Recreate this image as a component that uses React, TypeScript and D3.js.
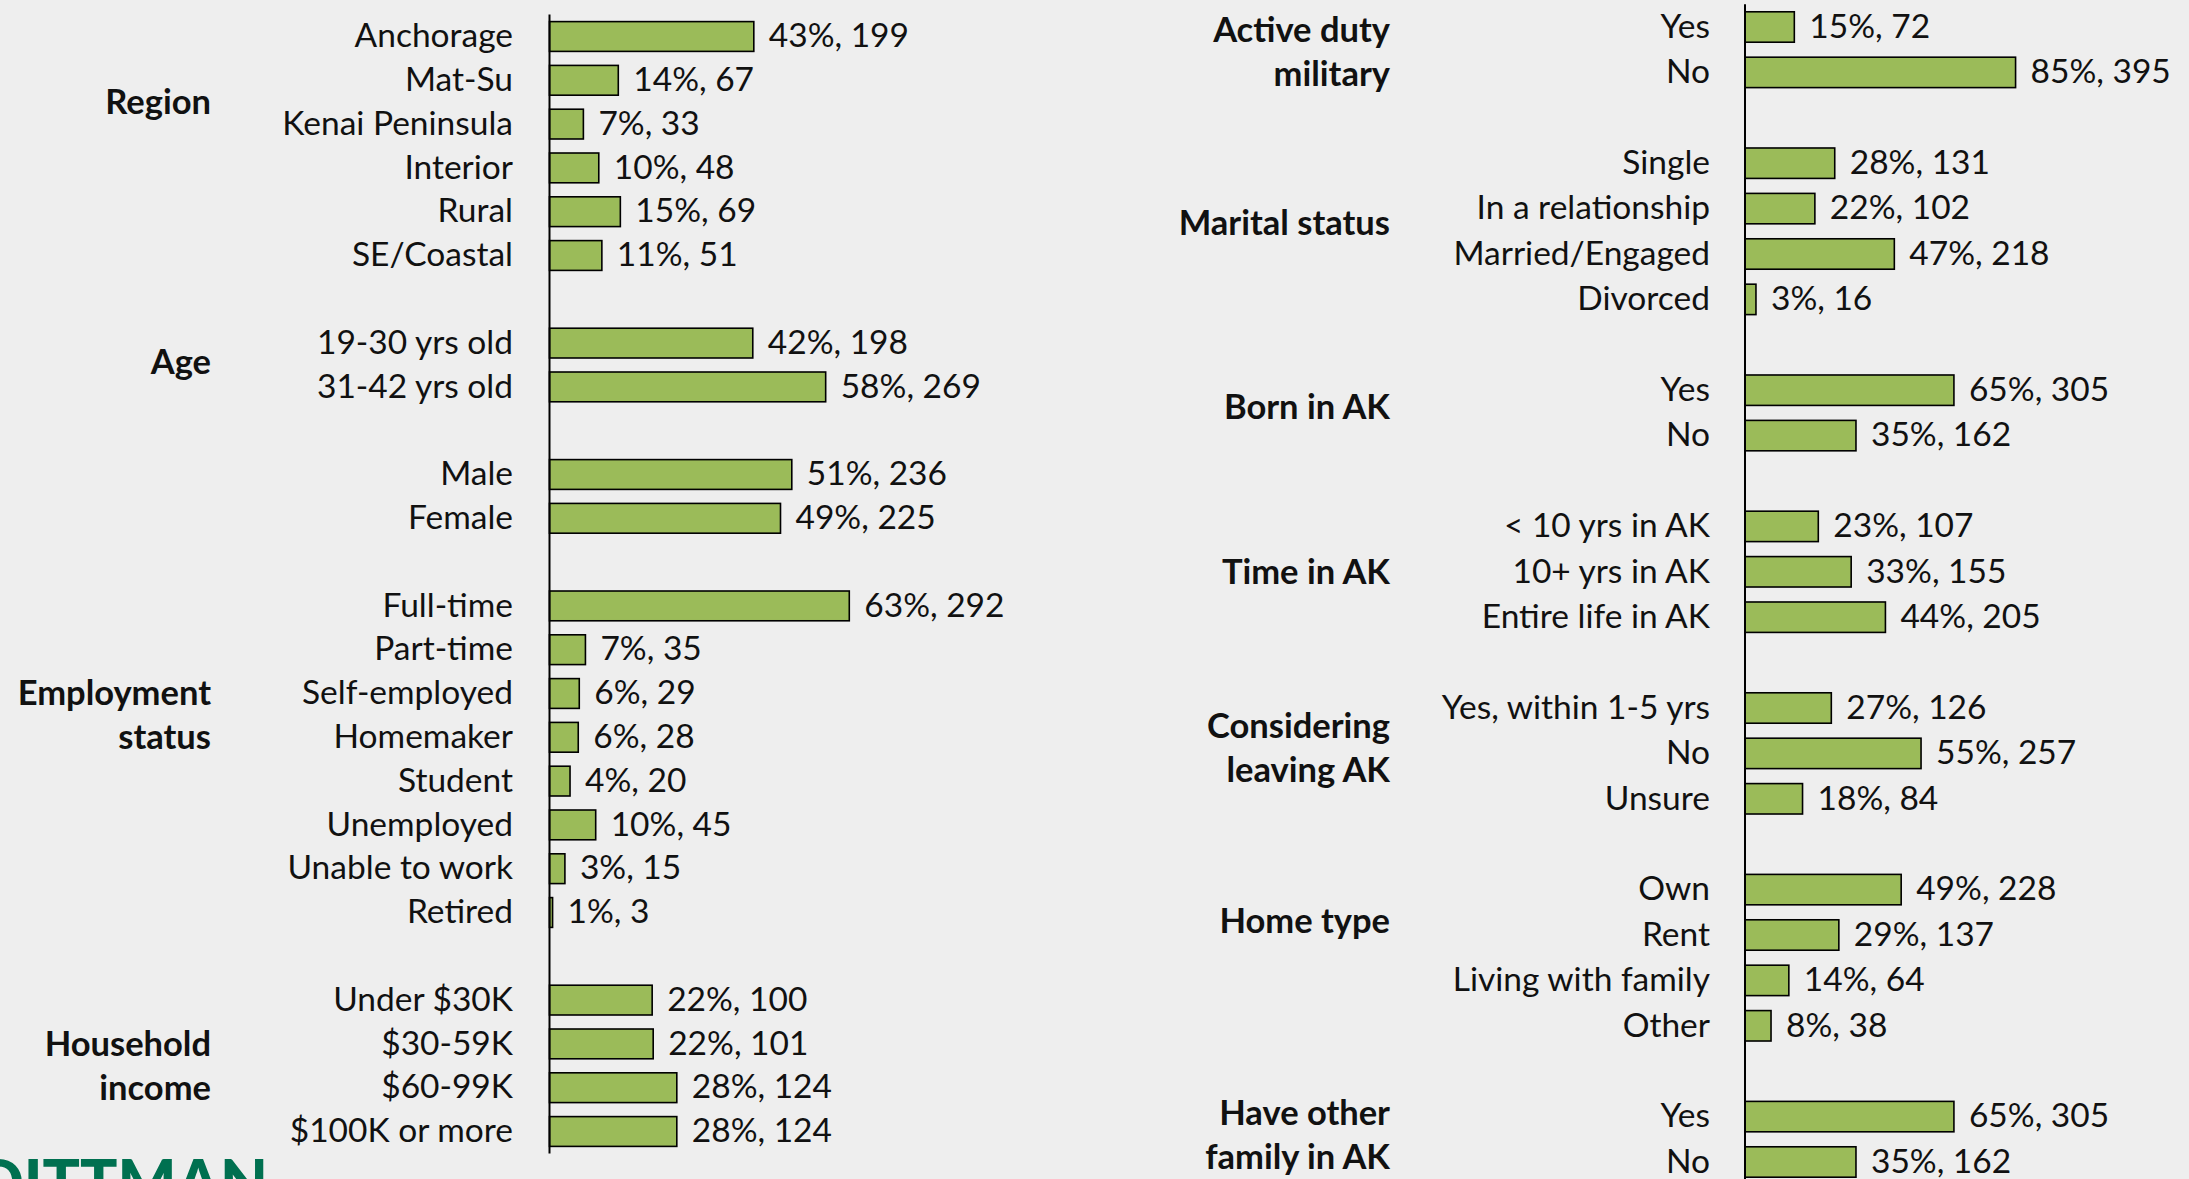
import React, { useEffect } from 'react';
import * as d3 from 'd3';

// ---------- Data (left panel) ----------
const leftGroupNames = ['Region', 'Age', '', 'Employment status', 'Household income'];
const leftItems = [
  ['Anchorage', 'Mat-Su', 'Kenai Peninsula', 'Interior', 'Rural', 'SE/Coastal'],
  ['19-30 yrs old', '31-42 yrs old'],
  ['Male', 'Female'],
  ['Full-time', 'Part-time', 'Self-employed', 'Homemaker', 'Student', 'Unemployed', 'Unable to work', 'Retired'],
  ['Under $30K', '$30-59K', '$60-99K', '$100K or more'],
];
const leftPct = [
  [43, 14, 7, 10, 15, 11],
  [42, 58],
  [51, 49],
  [63, 7, 6, 6, 4, 10, 3, 1],
  [22, 22, 28, 28],
];
const leftCounts = [
  [199, 67, 33, 48, 69, 51],
  [198, 269],
  [236, 225],
  [292, 35, 29, 28, 20, 45, 15, 3],
  [100, 101, 124, 124],
];

// ---------- Data (right panel) ----------
const rightGroupNames = ['Active duty military', 'Marital status', 'Born in AK', 'Time in AK', 'Considering leaving AK', 'Home type', 'Have other family in AK'];
const rightItems = [
  ['Yes', 'No'],
  ['Single', 'In a relationship', 'Married/Engaged', 'Divorced'],
  ['Yes', 'No'],
  ['< 10 yrs in AK', '10+ yrs in AK', 'Entire life in AK'],
  ['Yes, within 1-5 yrs', 'No', 'Unsure'],
  ['Own', 'Rent', 'Living with family', 'Other'],
  ['Yes', 'No'],
];
const rightPct = [
  [15, 85],
  [28, 22, 47, 3],
  [65, 35],
  [23, 33, 44],
  [27, 55, 18],
  [49, 29, 14, 8],
  [65, 35],
];
const rightCounts = [
  [72, 395],
  [131, 102, 218, 16],
  [305, 162],
  [107, 155, 205],
  [126, 257, 84],
  [228, 137, 64, 38],
  [305, 162],
];

// ---------- Layout (not data) ----------
const leftLabelLines = [['Region'], ['Age'], [], ['Employment', 'status'], ['Household', 'income']];
const leftLabelRows = [1.5, 7.43, 0, 15.0, 23.0];
const rightLabelLines = [['Active duty', 'military'], ['Marital status'], ['Born in AK'], ['Time in AK'], ['Considering', 'leaving AK'], ['Home type'], ['Have other', 'family in AK']];
const rightLabelRows = [0.07, 4.32, 8.37, 12.0, 15.4, 19.69, 23.92];

const W = 2189;
const H = 1179;
const FONT = 'Lato, "Open Sans", sans-serif';
const BG = '#eeeeee';
const BAR = '#9bbb59';
const TXT = '#111111';
const FS = 33.5;
const FSB = 34.5;

type PanelProps = {
  items: string[][];
  pct: number[][];
  counts: number[][];
  labelLines: string[][];
  labelRows: number[];
  axisX: number;
  xMax: number;
  xWidth: number;
  yTop: number;
  pitch: number;
  pad: number;
  catRight: number;
  groupRight: number;
};

function Panel(p: PanelProps) {
  const keys: string[] = [];
  const rows: { key: string; label: string; pct: number; count: number }[] = [];
  p.items.forEach((g, gi) => {
    if (gi > 0) keys.push(`gap-${gi}`);
    g.forEach((lab, i) => {
      const key = `${gi}-${i}`;
      keys.push(key);
      rows.push({ key, label: lab, pct: p.pct[gi][i], count: p.counts[gi][i] });
    });
  });
  const y = d3
    .scaleBand<string>()
    .domain(keys)
    .range([p.yTop, p.yTop + keys.length * p.pitch])
    .paddingInner(p.pad)
    .paddingOuter(p.pad / 2);
  const x = d3.scaleLinear().domain([0, p.xMax]).range([p.axisX, p.axisX + p.xWidth]);
  const bw = y.bandwidth();
  const rowCenter = (r: number) => (y(keys[0]) as number) + bw / 2 + r * y.step();
  const capShift = 21.5 / 2;
  return (
    <g>
      {rows.map((r) => {
        const yc = (y(r.key) as number) + bw / 2;
        return (
          <g key={r.key}>
            <rect
              x={x(0)}
              y={y(r.key)}
              width={Math.max(0, x(r.count) - x(0))}
              height={bw}
              fill={BAR}
              stroke="#000"
              strokeWidth={1.6}
            />
            <text x={p.catRight} y={yc + capShift} textAnchor="end" fontFamily={FONT} fontSize={FS} fill={TXT}>
              {r.label}
            </text>
            <text x={x(r.count) + 15} y={yc + capShift} textAnchor="start" fontFamily={FONT} fontSize={FS} fill={TXT}>
              {`${r.pct}%, ${r.count}`}
            </text>
          </g>
        );
      })}
      <line x1={p.axisX} x2={p.axisX} y1={y.range()[0]} y2={y.range()[1]} stroke="#000" strokeWidth={2} />
      {p.labelLines.map((lines, gi) =>
        lines.map((ln, li) => (
          <text
            key={`gl-${gi}-${li}`}
            x={p.groupRight}
            y={rowCenter(p.labelRows[gi]) + li * 44 + capShift + 1}
            textAnchor="end"
            fontFamily={FONT}
            fontWeight={700}
            fontSize={FSB}
            fill={TXT}
          >
            {ln}
          </text>
        ))
      )}
    </g>
  );
}

export default function App() {
  useEffect(() => {
    document.body.style.margin = '0';
    document.body.style.background = BG;
  }, []);
  return (
    <div style={{ position: 'absolute', left: 0, top: 0, width: W, height: H, overflow: 'hidden', background: BG }}>
      <svg width={W} height={H} viewBox={`0 0 ${W} ${H}`} style={{ display: 'block' }}>
        <rect x={0} y={0} width={W} height={H} fill={BG} />
        <Panel
          items={leftItems}
          pct={leftPct}
          counts={leftCounts}
          labelLines={leftLabelLines}
          labelRows={leftLabelRows}
          axisX={549.5}
          xMax={300}
          xWidth={308}
          yTop={14.6}
          pitch={43.8}
          pad={0.32}
          catRight={513}
          groupRight={211}
        />
        <Panel
          items={rightItems}
          pct={rightPct}
          counts={rightCounts}
          labelLines={rightLabelLines}
          labelRows={rightLabelRows}
          axisX={1745}
          xMax={400}
          xWidth={274}
          yTop={4.3}
          pitch={45.4}
          pad={0.33}
          catRight={1710}
          groupRight={1390}
        />
        <text x={268} y={1205} textAnchor="end" fontFamily={FONT} fontWeight={900} fontSize={62} fill="#007050">
          DITTMAN
        </text>
      </svg>
    </div>
  );
}
